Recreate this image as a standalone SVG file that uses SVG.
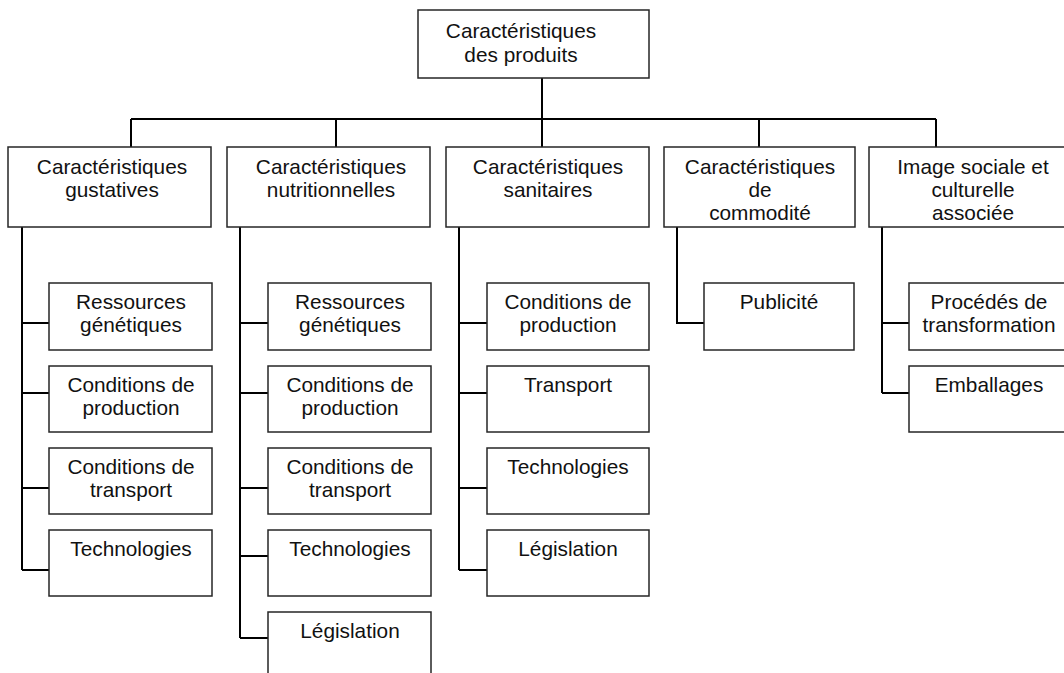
<svg xmlns="http://www.w3.org/2000/svg" width="1064" height="673" viewBox="0 0 1064 673">
<style>
rect{fill:#fff;stroke:#262626;stroke-width:1.5}
text{font-family:"Liberation Sans",Arial,sans-serif;font-size:20.8px;fill:#111;text-anchor:middle}
.c{fill:none;stroke:#000;stroke-width:2}
</style>
<rect x="0" y="0" width="1064" height="673" style="stroke:none"/>
<g id="connectors">
<path class="c" d="M542,78V147M131,119H936M131,119V147M336,119V147M759,119V147M936,119V147"/>
<path class="c" d="M22,227V570M22,323H49M22,393H49M22,488H49M22,570H49"/>
<path class="c" d="M240,227V638M240,323H268M240,393H268M240,488H268M240,556H268M240,638H268"/>
<path class="c" d="M459,227V570M459,323H487M459,393H487M459,488H487M459,570H487"/>
<path class="c" d="M677,227V323H704"/>
<path class="c" d="M882,227V393M882,323H909M882,393H909"/>
</g>
<g id="root"><rect x="418" y="10" width="231" height="68"/><text x="521" y="38">Caractéristiques</text><text x="521" y="62">des produits</text></g>
<g id="gustatives"><rect x="8" y="147" width="203" height="80"/><text x="112" y="174">Caractéristiques</text><text x="112" y="197">gustatives</text></g>
<g id="nutritionnelles"><rect x="227" y="147" width="203" height="80"/><text x="331" y="174">Caractéristiques</text><text x="331" y="197">nutritionnelles</text></g>
<g id="sanitaires"><rect x="446" y="147" width="203" height="80"/><text x="548" y="174">Caractéristiques</text><text x="548" y="197">sanitaires</text></g>
<g id="commodite"><rect x="664" y="147" width="191" height="80"/><text x="760" y="174">Caractéristiques</text><text x="760" y="197">de</text><text x="760" y="220">commodité</text></g>
<g id="image"><rect x="869" y="147" width="210" height="80"/><text x="973" y="174">Image sociale et</text><text x="973" y="197">culturelle</text><text x="973" y="220">associée</text></g>

<g id="g1"><rect x="49" y="283" width="163" height="67"/><text x="131" y="309">Ressources</text><text x="131" y="332">génétiques</text></g>
<g id="g2"><rect x="49" y="366" width="163" height="66"/><text x="131" y="392">Conditions de</text><text x="131" y="415">production</text></g>
<g id="g3"><rect x="49" y="448" width="163" height="66"/><text x="131" y="474">Conditions de</text><text x="131" y="497">transport</text></g>
<g id="g4"><rect x="49" y="530" width="163" height="66"/><text x="131" y="556">Technologies</text></g>

<g id="n1"><rect x="268" y="283" width="163" height="67"/><text x="350" y="309">Ressources</text><text x="350" y="332">génétiques</text></g>
<g id="n2"><rect x="268" y="366" width="163" height="66"/><text x="350" y="392">Conditions de</text><text x="350" y="415">production</text></g>
<g id="n3"><rect x="268" y="448" width="163" height="66"/><text x="350" y="474">Conditions de</text><text x="350" y="497">transport</text></g>
<g id="n4"><rect x="268" y="530" width="163" height="66"/><text x="350" y="556">Technologies</text></g>
<g id="n5"><rect x="268" y="612" width="163" height="70"/><text x="350" y="638">Législation</text></g>

<g id="s1"><rect x="487" y="283" width="162" height="67"/><text x="568" y="309">Conditions de</text><text x="568" y="332">production</text></g>
<g id="s2"><rect x="487" y="366" width="162" height="66"/><text x="568" y="392">Transport</text></g>
<g id="s3"><rect x="487" y="448" width="162" height="66"/><text x="568" y="474">Technologies</text></g>
<g id="s4"><rect x="487" y="530" width="162" height="66"/><text x="568" y="556">Législation</text></g>

<g id="c1"><rect x="704" y="283" width="150" height="67"/><text x="779" y="309">Publicité</text></g>

<g id="i1"><rect x="909" y="283" width="160" height="67"/><text x="989" y="309">Procédés de</text><text x="989" y="332">transformation</text></g>
<g id="i2"><rect x="909" y="366" width="160" height="66"/><text x="989" y="392">Emballages</text></g>
</svg>
